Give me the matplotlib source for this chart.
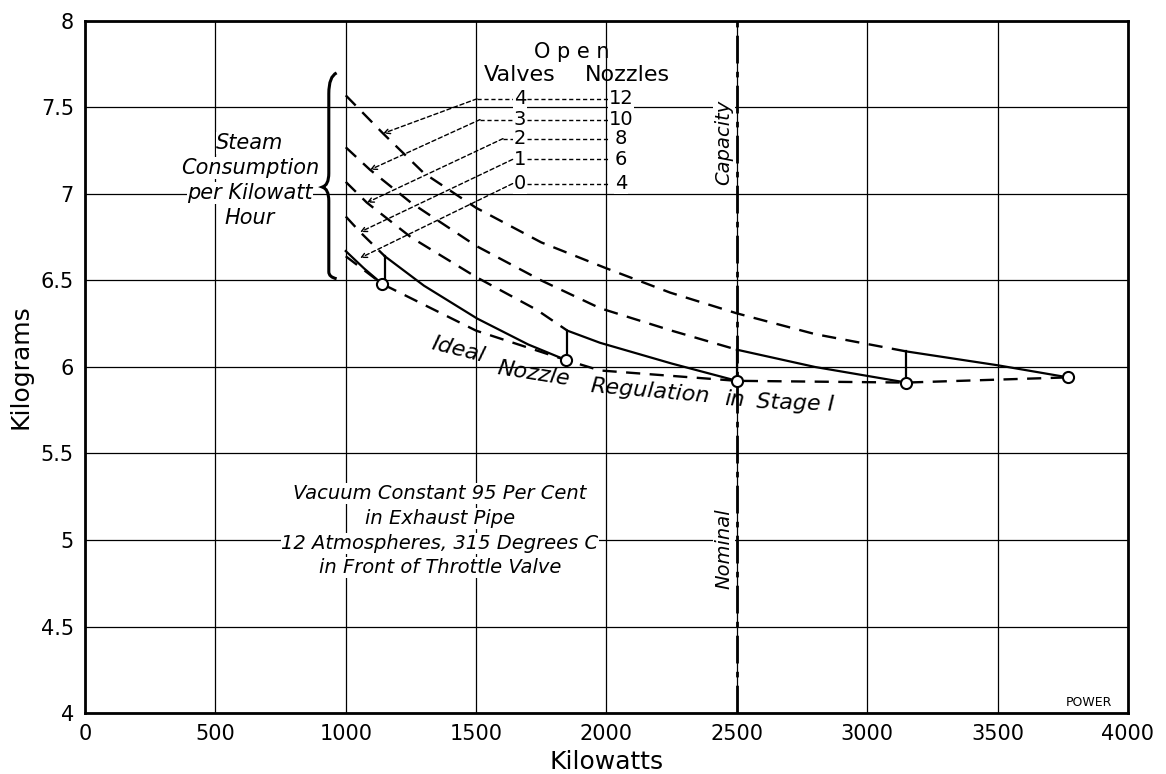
import matplotlib.pyplot as plt
from matplotlib.path import Path
from matplotlib.patches import PathPatch

# ---- data (kW, kg per kWh) ----
valves = [0, 1, 2, 3, 4]
nozzles = [4, 6, 8, 10, 12]

# part-load curves before the next valve opens (dashed)
v1_kw = [1000, 1055, 1150]
v1_kg = [6.87, 6.78, 6.64]
v2_kw = [1000, 1081, 1250, 1500, 1733, 1850]
v2_kg = [7.07, 6.95, 6.75, 6.52, 6.33, 6.21]
v3_kw = [1000, 1093, 1250, 1500, 1750, 1975, 2250, 2500]
v3_kg = [7.27, 7.14, 6.95, 6.70, 6.50, 6.34, 6.21, 6.10]
v4_kw = [1000, 1143, 1300, 1500, 1750, 2000, 2244, 2500, 2800, 3150]
v4_kg = [7.57, 7.35, 7.12, 6.92, 6.72, 6.57, 6.43, 6.31, 6.19, 6.09]

# actual consumption (solid, saw-tooth)
seg_kw = [[1000, 1070, 1140],
          [1150, 1300, 1504, 1700, 1845],
          [1850, 1975, 2250, 2500],
          [2500, 2800, 3150],
          [3150, 3500, 3770]]
seg_kg = [[6.67, 6.57, 6.48],
          [6.64, 6.47, 6.28, 6.13, 6.04],
          [6.21, 6.14, 6.02, 5.92],
          [6.10, 6.00, 5.91],
          [6.09, 6.01, 5.94]]

# ideal nozzle regulation (dashed through circles)
ideal_kw = [1000, 1140, 1500, 1845, 1975, 2500, 3150, 3770]
ideal_kg = [6.64, 6.48, 6.21, 6.04, 5.98, 5.92, 5.91, 5.94]
pts_kw = [1140, 1845, 2500, 3150, 3770]
pts_kg = [6.48, 6.04, 5.92, 5.91, 5.94]

nominal_kw = 2500

fig = plt.figure(figsize=(11.66, 7.74), dpi=100)
ax = fig.add_axes([0.0729, 0.0788, 0.8945, 0.8941])
ax.set_xlim(0, 4000)
ax.set_ylim(4, 8)
ax.set_xticks(range(0, 4001, 500))
ax.set_yticks([4, 4.5, 5, 5.5, 6, 6.5, 7, 7.5, 8])
ax.set_yticklabels(['4', '4.5', '5', '5.5', '6', '6.5', '7', '7.5', '8'])
ax.tick_params(length=0, labelsize=15, pad=8)
ax.grid(True, color='black', lw=0.9)
ax.set_axisbelow(True)
for s in ax.spines.values():
    s.set_linewidth(2)
ax.set_xlabel('Kilowatts', fontsize=18, labelpad=4)
ax.set_ylabel('Kilograms', fontsize=18, labelpad=6)

dash = (0, (6, 4))
for kw, kg in [(v1_kw, v1_kg), (v2_kw, v2_kg), (v3_kw, v3_kg), (v4_kw, v4_kg)]:
    ax.plot(kw, kg, color='black', lw=1.7, linestyle=dash)
for kw, kg in zip(seg_kw, seg_kg):
    ax.plot(kw, kg, color='black', lw=1.6)
# the jumps where a valve opens
for i in range(1, len(seg_kw)):
    ax.plot([seg_kw[i][0], seg_kw[i][0]], [seg_kg[i - 1][-1], seg_kg[i][0]], color='black', lw=1.6)
ax.plot(ideal_kw, ideal_kg, color='black', lw=1.7, linestyle=dash)
ax.plot(pts_kw, pts_kg, 'o', ms=8, mfc='white', mec='black', mew=1.5, zorder=5)

ax.axvline(nominal_kw, color='black', lw=2, linestyle=(0, (10, 3, 2, 3)))
ax.text(2450, 7.3, 'Capacity', rotation=90, style='italic', fontsize=14, ha='center', va='center',
        bbox=dict(fc='white', ec='none', pad=1))
ax.text(2450, 4.95, 'Nominal', rotation=90, style='italic', fontsize=14, ha='center', va='center',
        bbox=dict(fc='white', ec='none', pad=1))

# legend table: open valves / nozzles
ax.text(1868, 7.82, 'O p e n', fontsize=15, ha='center', va='center')
ax.text(1668, 7.69, 'Valves', fontsize=16, ha='center', va='center')
ax.text(2079, 7.69, 'Nozzles', fontsize=16, ha='center', va='center')
row_y = [7.06, 7.20, 7.32, 7.43, 7.55]
heads = [(1055, 6.63), (1055, 6.78), (1081, 6.95), (1093, 7.14), (1143, 7.35)]
tails = [(1640, 7.03), (1640, 7.19), (1603, 7.31), (1515, 7.42), (1503, 7.56)]
for v, n, y, h, t in zip(valves, nozzles, row_y, heads, tails):
    ax.text(1668, y, str(v), fontsize=14, ha='center', va='center',
            bbox=dict(fc='white', ec='none', pad=0.5))
    ax.text(2055, y, str(n), fontsize=14, ha='center', va='center',
            bbox=dict(fc='white', ec='none', pad=0.5))
    ax.plot([1695, 2010], [y, y], color='black', lw=1, linestyle=(0, (3, 2)))
    ax.plot([t[0], 1645], [y, y], color='black', lw=1, linestyle=(0, (3, 2)))
    ax.annotate('', xy=h, xytext=(t[0], y),
                arrowprops=dict(arrowstyle='->', color='black', lw=1, linestyle=(0, (3, 2)),
                                shrinkA=0, shrinkB=0))

# brace
bx = 935
verts = [(965, 7.70), (bx, 7.68), (bx, 7.58), (bx, 7.12), (bx, 7.05), (910, 7.04),
         (bx, 7.03), (bx, 6.96), (bx, 6.55), (bx, 6.52), (965, 6.51)]
codes = [Path.MOVETO, Path.CURVE3, Path.CURVE3, Path.LINETO, Path.CURVE3, Path.CURVE3,
         Path.CURVE3, Path.CURVE3, Path.LINETO, Path.CURVE3, Path.CURVE3]
ax.add_patch(PathPatch(Path(verts, codes), fc='none', ec='black', lw=2.2))

for txt, y in zip(['Steam', 'Consumption', 'per Kilowatt', 'Hour'], [7.295, 7.15, 7.006, 6.86]):
    ax.text(633, y, txt, style='italic', fontsize=15, ha='center', va='center',
            bbox=dict(fc='white', ec='none', pad=0.5))

for txt, y in zip(['Vacuum Constant 95 Per Cent', 'in Exhaust Pipe',
                   '12 Atmospheres, 315 Degrees C', 'in Front of Throttle Valve'],
                  [5.27, 5.125, 4.98, 4.84]):
    ax.text(1361, y, txt, style='italic', fontsize=14, ha='center', va='center',
            bbox=dict(fc='white', ec='none', pad=0.5))

# curved label under the ideal curve, one word at a time
for w, x, y, r in [('Ideal', 1430, 6.10, -14), ('Nozzle', 1720, 5.96, -9),
                   ('Regulation', 2167, 5.86, -5), ('in', 2493, 5.81, -3),
                   ('Stage I', 2723, 5.79, -2)]:
    ax.text(x, y, w, style='italic', fontsize=16, ha='center', va='center', rotation=r)
ax.text(3850, 4.06, 'POWER', fontsize=9, ha='center', va='center')

fig.savefig('out.png', dpi=100)
